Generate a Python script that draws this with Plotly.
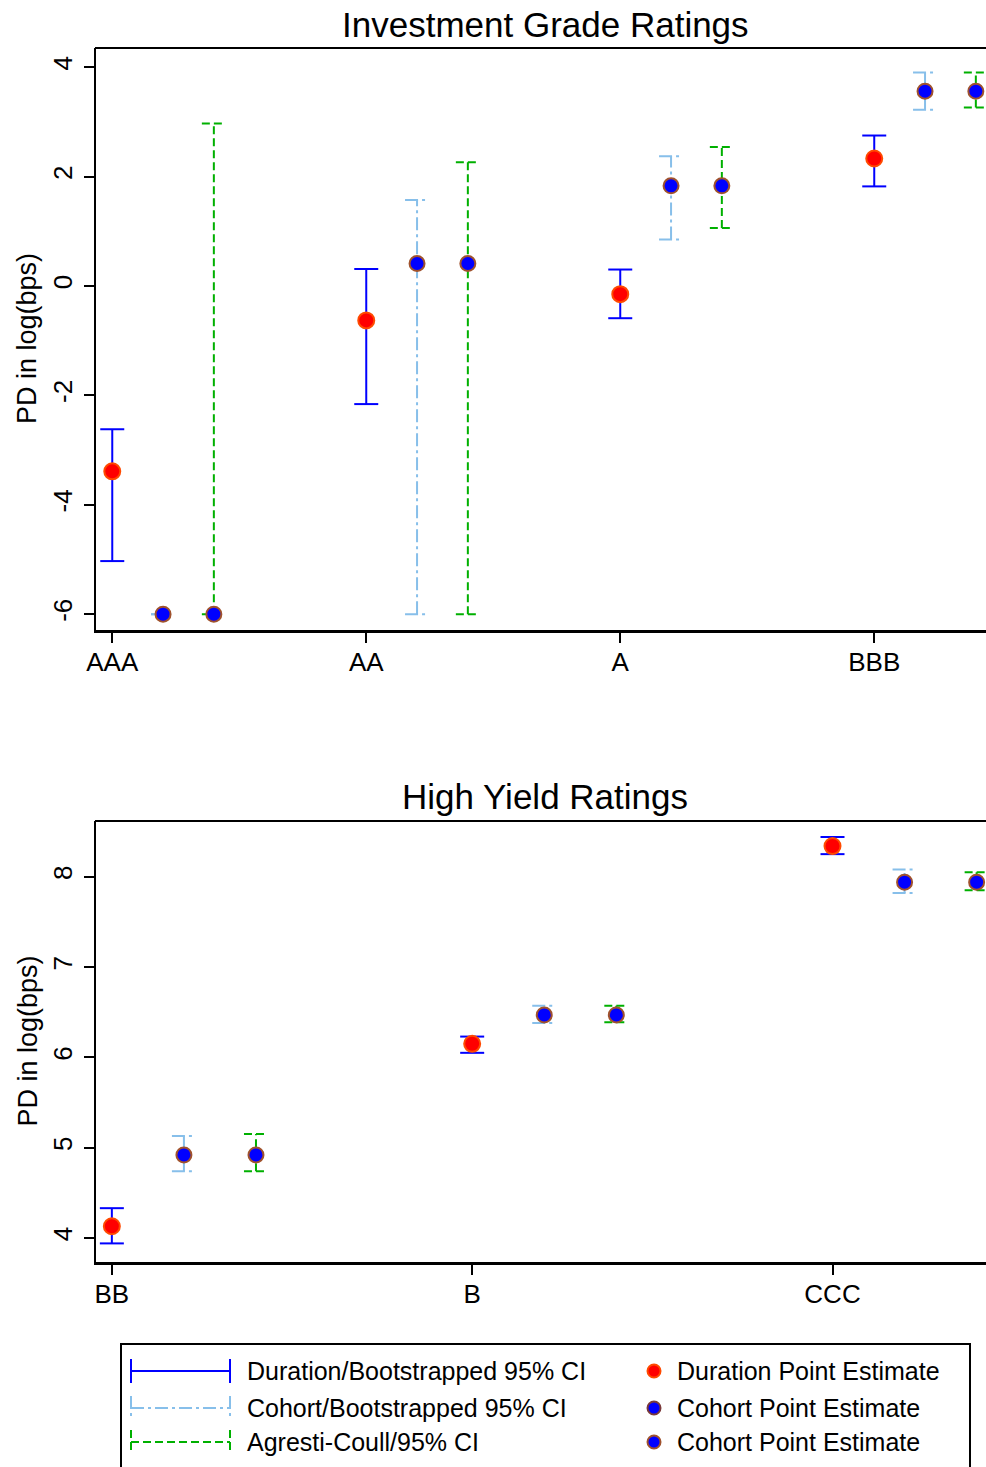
import plotly.graph_objects as go

W, H = 986, 1467

# ---------------- data ----------------
ig_categories = ["AAA", "AA", "A", "BBB"]
ig_duration_pe = [-3.39, -0.63, -0.15, 2.33]
ig_duration_lo = [-5.03, -2.16, -0.59, 1.82]
ig_duration_hi = [-2.62, 0.31, 0.30, 2.75]
ig_cohort_pe = [-6.00, 0.41, 1.83, 3.56]
ig_cohort_lo = [-6.00, -6.00, 0.85, 3.22]
ig_cohort_hi = [-6.00, 1.57, 2.37, 3.90]
ig_agresti_pe = [-6.00, 0.41, 1.83, 3.56]
ig_agresti_lo = [-6.00, -6.00, 1.06, 3.26]
ig_agresti_hi = [2.97, 2.26, 2.54, 3.90]
ig_yticks = [-6, -4, -2, 0, 2, 4]
ig_yticklabels = ["-6", "-4", "-2", "0", "2", "4"]

hy_categories = ["BB", "B", "CCC"]
hy_duration_pe = [4.13, 6.15, 8.34]
hy_duration_lo = [3.94, 6.05, 8.25]
hy_duration_hi = [4.33, 6.23, 8.44]
hy_cohort_pe = [4.92, 6.47, 7.94]
hy_cohort_lo = [4.74, 6.38, 7.82]
hy_cohort_hi = [5.13, 6.57, 8.08]
hy_agresti_pe = [4.92, 6.47, 7.94]
hy_agresti_lo = [4.74, 6.39, 7.85]
hy_agresti_hi = [5.15, 6.57, 8.05]
hy_yticks = [4, 5, 6, 7, 8]
hy_yticklabels = ["4", "5", "6", "7", "8"]

series_offsets = [0.0, 0.2, 0.4]

legend_ci_labels = ["Duration/Bootstrapped 95% CI", "Cohort/Bootstrapped 95% CI", "Agresti-Coull/95% CI"]
legend_pt_labels = ["Duration Point Estimate", "Cohort Point Estimate", "Cohort Point Estimate"]

# ---------------- styles ----------------
FONT = "Liberation Sans, Arial, sans-serif"
C_DUR = "#0000FF"
C_COH = "#87BFEA"
C_AGR = "#00B000"
DASH_DUR = "solid"
DASH_COH = "13px,4px,3px,4px"
DASH_AGR = "8px,4px"
LW = 2
CAP_PX = 12
PT_RED, PT_RED_LINE = "#FF0000", "#FF4A00"
PT_BLUE, PT_BLUE_LINE = "#0000FF", "#A0522D"

PLOT_L, PLOT_R = 96, 986
TOP_T, TOP_B = 48, 630
BOT_T, BOT_B = 821, 1262
ig_xrange = [-0.064, 3.44]
ig_yrange = [-6.29, 4.35]
hy_xrange = [-0.044, 2.426]
hy_yrange = [3.734, 8.617]


def pxx(x):
    return x / W


def pyy(y):
    return 1 - y / H


fig = go.Figure()


def add_ci(xaxis, yaxis, cats, lo, hi, off, color, dash, xr):
    cap = CAP_PX * (xr[1] - xr[0]) / (PLOT_R - PLOT_L)
    xs, ys = [], []
    for i in range(len(cats)):
        x = i + off
        xs += [x, x, None, x - cap, x + cap, None, x - cap, x + cap, None]
        ys += [lo[i], hi[i], None, lo[i], lo[i], None, hi[i], hi[i], None]
    fig.add_trace(go.Scatter(x=xs, y=ys, mode="lines", xaxis=xaxis, yaxis=yaxis,
                             line=dict(color=color, width=LW, dash=dash),
                             showlegend=False, hoverinfo="skip"))


def add_pts(xaxis, yaxis, cats, pe, off, fill, edge, size):
    fig.add_trace(go.Scatter(x=[i + off for i in range(len(cats))], y=pe, mode="markers",
                             xaxis=xaxis, yaxis=yaxis,
                             marker=dict(color=fill, size=size, line=dict(color=edge, width=2)),
                             showlegend=False))


for ax, cats, d_lo, d_hi, c_lo, c_hi, a_lo, a_hi, xr in [
    ("x", ig_categories, ig_duration_lo, ig_duration_hi, ig_cohort_lo, ig_cohort_hi,
     ig_agresti_lo, ig_agresti_hi, ig_xrange),
    ("x2", hy_categories, hy_duration_lo, hy_duration_hi, hy_cohort_lo, hy_cohort_hi,
     hy_agresti_lo, hy_agresti_hi, hy_xrange),
]:
    yax = "y" if ax == "x" else "y2"
    add_ci(ax, yax, cats, d_lo, d_hi, series_offsets[0], C_DUR, DASH_DUR, xr)
    add_ci(ax, yax, cats, c_lo, c_hi, series_offsets[1], C_COH, DASH_COH, xr)
    add_ci(ax, yax, cats, a_lo, a_hi, series_offsets[2], C_AGR, DASH_AGR, xr)

add_pts("x", "y", ig_categories, ig_duration_pe, series_offsets[0], PT_RED, PT_RED_LINE, 16)
add_pts("x", "y", ig_categories, ig_cohort_pe, series_offsets[1], PT_BLUE, PT_BLUE_LINE, 15)
add_pts("x", "y", ig_categories, ig_agresti_pe, series_offsets[2], PT_BLUE, PT_BLUE_LINE, 15)
add_pts("x2", "y2", hy_categories, hy_duration_pe, series_offsets[0], PT_RED, PT_RED_LINE, 16)
add_pts("x2", "y2", hy_categories, hy_cohort_pe, series_offsets[1], PT_BLUE, PT_BLUE_LINE, 15)
add_pts("x2", "y2", hy_categories, hy_agresti_pe, series_offsets[2], PT_BLUE, PT_BLUE_LINE, 15)

tickfont = dict(family=FONT, size=26, color="black")
xcommon = dict(showgrid=False, zeroline=False, showline=True, linecolor="black", linewidth=3,
               ticks="outside", ticklen=10, tickwidth=2, tickcolor="black", tickfont=tickfont,
               automargin=False, ticklabelstandoff=-3)
ycommon = dict(showgrid=False, zeroline=False, showline=True, linecolor="black", linewidth=2,
               ticks="outside", ticklen=10, tickwidth=2, tickcolor="black", tickfont=tickfont,
               tickangle=-90, automargin=False, ticklabelstandoff=2)

fig.update_layout(
    template="none",
    width=W, height=H, margin=dict(l=0, r=0, t=0, b=0, pad=0),
    paper_bgcolor="white", plot_bgcolor="white", showlegend=False,
    xaxis=dict(domain=[pxx(PLOT_L), pxx(PLOT_R)], anchor="y", range=ig_xrange,
               tickmode="array", tickvals=list(range(len(ig_categories))), ticktext=ig_categories, **xcommon),
    yaxis=dict(domain=[pyy(TOP_B), pyy(TOP_T)], anchor="x", range=ig_yrange,
               tickmode="array", tickvals=ig_yticks, ticktext=ig_yticklabels, **ycommon),
    xaxis2=dict(domain=[pxx(PLOT_L), pxx(PLOT_R)], anchor="y2", range=hy_xrange,
                tickmode="array", tickvals=list(range(len(hy_categories))), ticktext=hy_categories, **xcommon),
    yaxis2=dict(domain=[pyy(BOT_B), pyy(BOT_T)], anchor="x2", range=hy_yrange,
                tickmode="array", tickvals=hy_yticks, ticktext=hy_yticklabels, **ycommon),
)

shapes = []
# top borders of both panels
for yt in (TOP_T, BOT_T):
    shapes.append(dict(type="line", xref="paper", yref="paper", x0=pxx(PLOT_L - 1), x1=1.01,
                       y0=pyy(yt), y1=pyy(yt), line=dict(color="black", width=2)))

annotations = []
annotations.append(dict(text="Investment Grade Ratings", x=pxx(545), y=pyy(24), xref="paper", yref="paper",
                        showarrow=False, xanchor="center", yanchor="middle",
                        font=dict(family=FONT, size=35, color="black")))
annotations.append(dict(text="High Yield Ratings", x=pxx(545), y=pyy(796), xref="paper", yref="paper",
                        showarrow=False, xanchor="center", yanchor="middle",
                        font=dict(family=FONT, size=35, color="black")))
for yc in ((TOP_T + TOP_B) / 2, (BOT_T + BOT_B) / 2):
    annotations.append(dict(text="PD in log(bps)", x=pxx(27), y=pyy(yc), xref="paper", yref="paper",
                            showarrow=False, xanchor="center", yanchor="middle", textangle=-90,
                            font=dict(family=FONT, size=27, color="black")))

# legend box
shapes.append(dict(type="rect", xref="paper", yref="paper", x0=pxx(121), x1=pxx(970),
                   y0=pyy(1500), y1=pyy(1344), line=dict(color="black", width=2), fillcolor="white",
                   layer="below"))
rows = [1371, 1408, 1442]
ci_styles = [(C_DUR, DASH_DUR), (C_COH, DASH_COH), (C_AGR, DASH_AGR)]
pt_styles = [(PT_RED, PT_RED_LINE), (PT_BLUE, "#7A3A3A"), (PT_BLUE, PT_BLUE_LINE)]
for k, yr in enumerate(rows):
    col, dash = ci_styles[k]
    shapes.append(dict(type="line", xref="paper", yref="paper", x0=pxx(131), x1=pxx(230),
                       y0=pyy(yr), y1=pyy(yr), line=dict(color=col, width=LW, dash=dash)))
    for xe in (131, 230):
        shapes.append(dict(type="line", xref="paper", yref="paper", x0=pxx(xe), x1=pxx(xe),
                           y0=pyy(yr - 12), y1=pyy(yr + 12), line=dict(color=col, width=LW, dash=dash)))
    fc, lc = pt_styles[k]
    r = 6.5
    shapes.append(dict(type="circle", xref="paper", yref="paper", x0=pxx(654 - r), x1=pxx(654 + r),
                       y0=pyy(yr + r), y1=pyy(yr - r), fillcolor=fc, line=dict(color=lc, width=2)))
    annotations.append(dict(text=legend_ci_labels[k], x=pxx(245), y=pyy(yr), xref="paper", yref="paper",
                            showarrow=False, xanchor="left", yanchor="middle",
                            font=dict(family=FONT, size=25, color="black")))
    annotations.append(dict(text=legend_pt_labels[k], x=pxx(675), y=pyy(yr), xref="paper", yref="paper",
                            showarrow=False, xanchor="left", yanchor="middle",
                            font=dict(family=FONT, size=25, color="black")))

fig.update_layout(shapes=shapes, annotations=annotations)
fig.write_html("out.html", config={"displayModeBar": False},
               post_script="document.body.style.margin='0';document.body.style.overflow='hidden';")
